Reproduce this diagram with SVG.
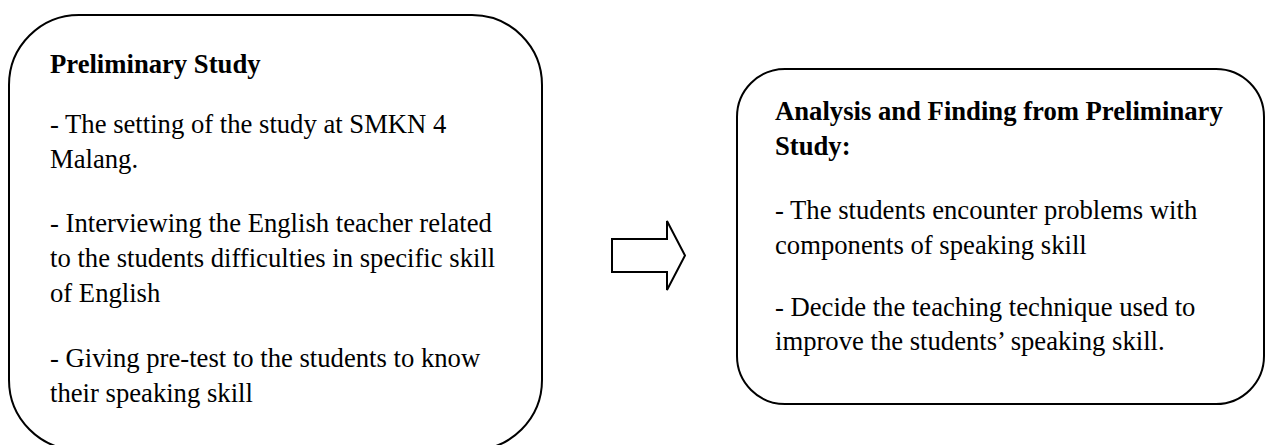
<svg xmlns="http://www.w3.org/2000/svg" width="1266" height="445" viewBox="0 0 1266 445">
<style>
.box{fill:#fff;stroke:#000;stroke-width:2}
.t{font-family:"Liberation Serif","Times New Roman",serif;font-size:26.67px;fill:#000}
.b{font-weight:bold}
</style>
<rect width="1266" height="445" fill="#fff"/>
<g id="preliminary-study">
<rect class="box" x="9" y="15" width="533" height="435" rx="70" ry="70"/>
<text class="t b" x="50" y="73">Preliminary Study</text>
<text class="t" x="50" y="133">- The setting of the study at SMKN 4</text>
<text class="t" x="50" y="168">Malang.</text>
<text class="t" x="50" y="232">- Interviewing the English teacher related</text>
<text class="t" x="50" y="267">to the students difficulties in specific skill</text>
<text class="t" x="50" y="302">of English</text>
<text class="t" x="50" y="367">- Giving pre-test to the students to know</text>
<text class="t" x="50" y="402">their speaking skill</text>
</g>
<g id="analysis-finding">
<rect class="box" x="737" y="69" width="527" height="335" rx="48" ry="48"/>
<text class="t b" x="775" y="120">Analysis and Finding from Preliminary</text>
<text class="t b" x="775" y="155">Study:</text>
<text class="t" x="775" y="219">- The students encounter problems with</text>
<text class="t" x="775" y="254">components of speaking skill</text>
<text class="t" x="775" y="316">- Decide the teaching technique used to</text>
<text class="t" x="775" y="350">improve the students’ speaking skill.</text>
</g>
<g id="connectors">
<polygon class="box" points="612,239 667,239 667,221 685,255.5 667,290 667,272 612,272"/>
</g>
</svg>
